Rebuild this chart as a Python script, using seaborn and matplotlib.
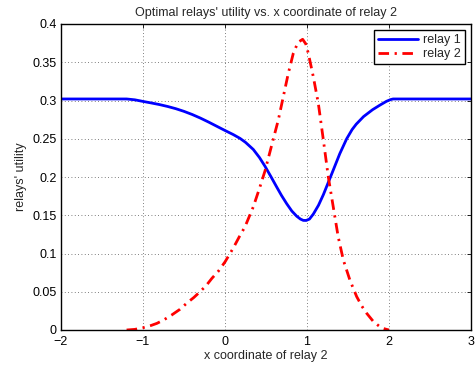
import matplotlib
matplotlib.use("Agg")
import matplotlib.pyplot as plt
import seaborn as sns
import pandas as pd

# relay 1 (blue, solid)
relay1_x = [-2.0, -1.2, -1.1, -1.0, -0.9, -0.8, -0.7, -0.6, -0.5, -0.4, -0.3, -0.2, -0.1,
            0.0, 0.1, 0.183, 0.25, 0.345, 0.42, 0.488, 0.56, 0.63, 0.69, 0.753, 0.815,
            0.875, 0.92, 0.955, 0.99, 1.03, 1.077, 1.14, 1.2, 1.26, 1.32, 1.40, 1.484,
            1.55, 1.6, 1.69, 1.8, 1.89, 1.97, 2.02, 2.05, 3.0]
relay1_y = [0.302, 0.302, 0.3009, 0.2988, 0.2968, 0.2947, 0.2922, 0.2893, 0.2858, 0.2817,
            0.2770, 0.2718, 0.2663, 0.2608, 0.2555, 0.2505, 0.2453, 0.2360, 0.2255, 0.2140,
            0.2005, 0.1870, 0.1757, 0.1650, 0.1555, 0.1487, 0.1450, 0.1433, 0.1432, 0.1450,
            0.1515, 0.1630, 0.1770, 0.1930, 0.2090, 0.2305, 0.2500, 0.2620, 0.2690, 0.2790,
            0.2880, 0.2940, 0.2990, 0.3012, 0.302, 0.302]

# relay 2 (red, dash-dot)
relay2_x = [-1.2, -1.1, -1.0, -0.9, -0.83, -0.75, -0.65, -0.55, -0.467, -0.38, -0.305,
            -0.23, -0.16, -0.08, 0.0, 0.1, 0.175, 0.244, 0.345, 0.42, 0.488, 0.59, 0.65,
            0.711, 0.772, 0.833, 0.89, 0.947, 0.985, 1.016, 1.077, 1.138, 1.2, 1.26, 1.32,
            1.38, 1.443, 1.524, 1.606, 1.67, 1.728, 1.81, 1.88, 1.93, 2.0]
relay2_y = [0.0, 0.0008, 0.0030, 0.0060, 0.0087, 0.0130, 0.0196, 0.0270, 0.0350, 0.0425,
            0.0500, 0.0580, 0.0675, 0.0770, 0.0890, 0.1070, 0.1220, 0.1350, 0.1610, 0.1850,
            0.2080, 0.2500, 0.2745, 0.3050, 0.3355, 0.3617, 0.3760, 0.3800, 0.3740, 0.3617,
            0.3310, 0.2963, 0.2480, 0.2000, 0.1610, 0.1220, 0.0915, 0.0650, 0.0436, 0.0310,
            0.0218, 0.0110, 0.0050, 0.0020, 0.0]

x_ticks = [-2, -1, 0, 1, 2, 3]
x_ticklabels = ["\u22122", "\u22121", "0", "1", "2", "3"]
y_ticks = [0, 0.05, 0.1, 0.15, 0.2, 0.25, 0.3, 0.35, 0.4]
y_ticklabels = ["0", "0.05", "0.1", "0.15", "0.2", "0.25", "0.3", "0.35", "0.4"]

sns.set_style("white")
plt.rcParams["font.family"] = ["Liberation Sans", "DejaVu Sans"]
plt.rcParams["font.size"] = 9

df1 = pd.DataFrame({"x": relay1_x, "y": relay1_y})
df2 = pd.DataFrame({"x": relay2_x, "y": relay2_y})

fig = plt.figure(figsize=(4.77, 3.68), dpi=100)
ax = fig.add_axes([61/477, 1-330/368, 410/477, 306/368])

sns.lineplot(data=df1, x="x", y="y", ax=ax, color="#0000ff", lw=2.0, sort=False,
             label="relay 1", estimator=None)
sns.lineplot(data=df2, x="x", y="y", ax=ax, color="#ff0000", lw=2.0, sort=False,
             label="relay 2", estimator=None)
ax.lines[1].set_dashes([3.8, 2, 0.8, 2])

ax.set_xlim(-2, 3)
ax.set_ylim(0, 0.4)
ax.set_xticks(x_ticks)
ax.set_xticklabels(x_ticklabels)
ax.set_yticks(y_ticks)
ax.set_yticklabels(y_ticklabels)
ax.tick_params(direction="in", length=3, width=0.6, top=True, right=True,
               labelsize=9, colors="black")
ax.tick_params(axis="x", pad=4)
ax.tick_params(axis="y", pad=3)
ax.grid(True, linestyle=(0, (1, 3)), color="#555555", linewidth=0.6)
for s in ax.spines.values():
    s.set_color("black")
    s.set_linewidth(1.0)
ax.set_xlabel("x coordinate of relay 2", fontsize=9, labelpad=2)
ax.set_ylabel("relays' utility", fontsize=9, labelpad=4)
ax.set_title("Optimal relays' utility vs. x coordinate of relay 2", fontsize=9, pad=6)
leg = ax.legend(loc="upper right", fontsize=9, frameon=True, fancybox=False,
                edgecolor="black", handlelength=3.2, borderaxespad=0.5,
                borderpad=0.3, labelspacing=0.2, handletextpad=0.4)
leg.get_frame().set_linewidth(1.0)
leg.get_frame().set_alpha(1)
leg.get_lines()[1].set_dashes([3.8, 2, 0.8, 2])

fig.savefig("out.png", dpi=100)
